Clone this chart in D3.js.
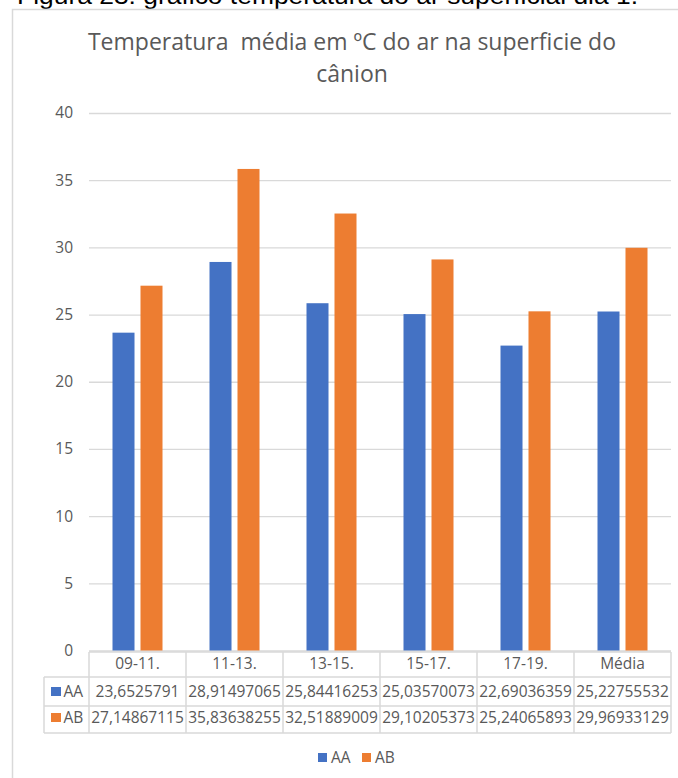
<!DOCTYPE html>
<html>
<head>
<meta charset="utf-8">
<script src="https://cdn.jsdelivr.net/npm/d3@7"></script>
<style>
  html, body { margin: 0; padding: 0; background: #fff; overflow: hidden; }
  svg { display: block; }
</style>
</head>
<body>
<svg id="chart" width="678" height="778"></svg>
<script>
// Average air temperature (ºC) at the canyon surface, per time slot
const categories = ["09-11.", "11-13.", "13-15.", "15-17.", "17-19.", "Média"];
const seriesNames = ["AA", "AB"];
const valuesAA = [23.6525791, 28.91497065, 25.84416253, 25.03570073, 22.69036359, 25.22755532];
const valuesAB = [27.14867115, 35.83638255, 32.51889009, 29.10205373, 25.24065893, 29.96933129];
const labelsAA = ["23,6525791", "28,91497065", "25,84416253", "25,03570073", "22,69036359", "25,22755532"];
const labelsAB = ["27,14867115", "35,83638255", "32,51889009", "29,10205373", "25,24065893", "29,96933129"];
const yTicks = [0, 5, 10, 15, 20, 25, 30, 35, 40];
const colors = ["#4472C4", "#ED7D31"];

const seriesValues = [valuesAA, valuesAB];
const seriesLabels = [labelsAA, labelsAB];

const svg = d3.select("#chart");
const FONT = "'Open Sans', 'Noto Sans', sans-serif";
const TEXT = "#595959";
const GRID = "#d9d9d9";

// Caption above the chart frame (mostly clipped at the top)
svg.append("text")
  .attr("x", 17).attr("y", 4)
  .attr("font-family", "'Liberation Sans', Arial, sans-serif")
  .attr("font-size", 23)
  .attr("fill", "#000")
  .attr("textLength", 621)
  .attr("lengthAdjust", "spacingAndGlyphs")
  .text("Figura 23: gráfico temperatura do ar superficial dia 1.");

// Chart frame
svg.append("rect")
  .attr("x", 12.5).attr("y", 9.5)
  .attr("width", 700).attr("height", 800)
  .attr("fill", "#fff")
  .attr("stroke", GRID).attr("stroke-width", 1.5);

// Title
const title = svg.append("text")
  .attr("text-anchor", "middle")
  .attr("font-family", FONT)
  .attr("font-size", 23)
  .attr("fill", TEXT)
  .style("white-space", "pre");
title.append("tspan").attr("x", 352).attr("y", 50).text("Temperatura  média em ºC do ar na superficie do");
title.append("tspan").attr("x", 352).attr("y", 82).text("cânion");

// Scales
const x = d3.scaleBand().domain(categories).range([89, 671]).paddingInner(0).paddingOuter(0);
const groupW = 50;
const xs = d3.scaleBand().domain(seriesNames)
  .range([(x.bandwidth() - groupW) / 2, (x.bandwidth() + groupW) / 2])
  .paddingInner(0.214).paddingOuter(0);
const y = d3.scaleLinear().domain([0, 40]).range([650.5, 113]);

// Gridlines + y labels via axis
const yAxis = d3.axisLeft(y).tickValues(yTicks).tickSize(-(671 - 89)).tickPadding(16).tickFormat(d3.format("d"));
const gy = svg.append("g").attr("transform", "translate(89,0)").call(yAxis);
gy.select(".domain").remove();
gy.selectAll(".tick line").attr("stroke", GRID).attr("stroke-width", 1.3);
gy.selectAll(".tick text")
  .attr("font-family", FONT).attr("font-size", 15.5).attr("fill", TEXT);

// Bars
const groups = svg.append("g").selectAll("g")
  .data(categories)
  .join("g")
  .attr("transform", d => `translate(${x(d)},0)`);

groups.selectAll("rect")
  .data((d, i) => seriesNames.map((s, k) => ({ s, k, v: seriesValues[k][i] })))
  .join("rect")
  .attr("x", d => xs(d.s))
  .attr("width", xs.bandwidth())
  .attr("y", d => y(d.v))
  .attr("height", d => y(0) - y(d.v))
  .attr("fill", d => colors[d.k]);

// Data table
const tTop = 652, hBot = 677, r1Bot = 706, r2Bot = 733, leftX = 44;
const tbl = svg.append("g")
  .attr("stroke", GRID).attr("stroke-width", 1.5).attr("fill", "none");
// horizontal lines
tbl.append("line").attr("x1", 89).attr("x2", 671).attr("y1", tTop).attr("y2", tTop);
[hBot, r1Bot, r2Bot].forEach(yy =>
  tbl.append("line").attr("x1", leftX).attr("x2", 671).attr("y1", yy).attr("y2", yy));
// vertical lines
tbl.append("line").attr("x1", leftX).attr("x2", leftX).attr("y1", hBot).attr("y2", r2Bot);
categories.forEach(c =>
  tbl.append("line").attr("x1", x(c)).attr("x2", x(c)).attr("y1", tTop).attr("y2", r2Bot));
tbl.append("line").attr("x1", 671).attr("x2", 671).attr("y1", tTop).attr("y2", r2Bot);

const tt = svg.append("g").attr("font-family", FONT).attr("font-size", 15.5).attr("fill", TEXT);
tt.selectAll("text.hdr").data(categories).join("text")
  .attr("class", "hdr")
  .attr("x", d => x(d) + x.bandwidth() / 2).attr("y", 669)
  .attr("text-anchor", "middle").text(d => d);

const rowBase = [697, 723];
seriesNames.forEach((s, k) => {
  tt.selectAll(`text.v${k}`).data(categories).join("text")
    .attr("class", `v${k}`)
    .attr("x", d => x(d) + x.bandwidth() / 2).attr("y", rowBase[k])
    .attr("text-anchor", "middle")
    .text((d, i) => seriesLabels[k][i]);
  svg.append("rect").attr("x", 51).attr("y", rowBase[k] - 10).attr("width", 10).attr("height", 9).attr("fill", colors[k]);
  tt.append("text").attr("x", 63.5).attr("y", rowBase[k]).text(s);
});

// Legend
const legend = svg.append("g").attr("font-family", FONT).attr("font-size", 15.5).attr("fill", TEXT);
const legendX = [318, 362];
seriesNames.forEach((s, k) => {
  legend.append("rect").attr("x", legendX[k]).attr("y", 753).attr("width", 9).attr("height", 9).attr("fill", colors[k]);
  legend.append("text").attr("x", legendX[k] + 13).attr("y", 763).text(s);
});
</script>
</body>
</html>
